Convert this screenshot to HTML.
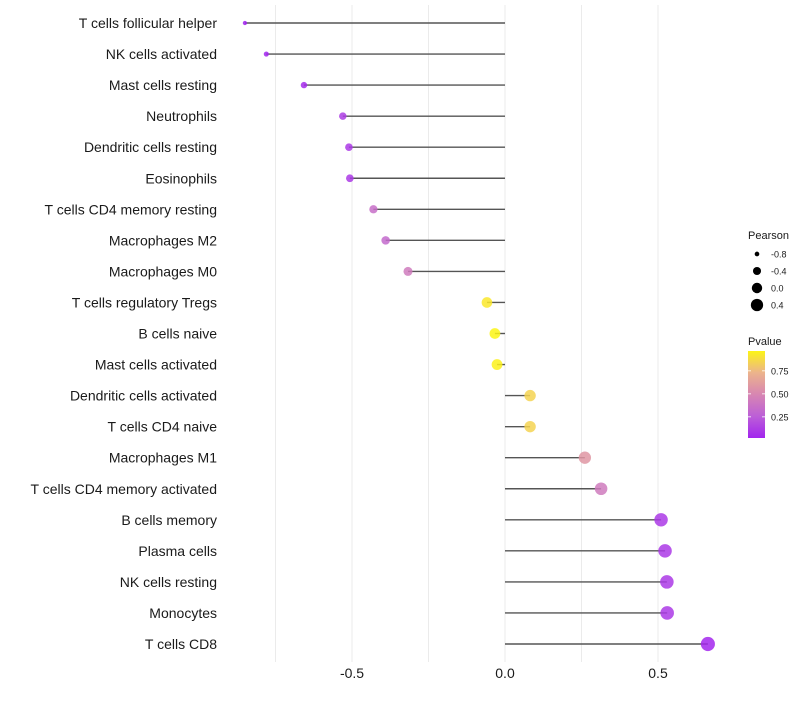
<!DOCTYPE html>
<html><head><meta charset="utf-8"><style>
body{margin:0;background:#fff;font-family:"Liberation Sans",sans-serif}
</style></head><body>
<svg id="chart" width="800" height="700" xmlns="http://www.w3.org/2000/svg" font-family="Liberation Sans, sans-serif"></svg>
<script>
const categories=["T cells follicular helper","NK cells activated","Mast cells resting","Neutrophils","Dendritic cells resting","Eosinophils","T cells CD4 memory resting","Macrophages M2","Macrophages M0","T cells regulatory  Tregs ","B cells naive","Mast cells activated","Dendritic cells activated","T cells CD4 naive","Macrophages M1","T cells CD4 memory activated","B cells memory","Plasma cells","NK cells resting","Monocytes","T cells CD8"];
const pearson=[-0.85,-0.78,-0.657,-0.53,-0.51,-0.507,-0.43,-0.39,-0.317,-0.059,-0.033,-0.026,0.082,0.082,0.261,0.314,0.51,0.523,0.529,0.53,0.663];
const pvalue=[0.01,0.02,0.05,0.12,0.1,0.1,0.35,0.32,0.42,0.92,0.96,0.95,0.85,0.85,0.58,0.42,0.1,0.1,0.1,0.1,0.03];
const xTicks=[-0.5,0,0.5];
const xTickLabels=["-0.5","0.0","0.5"];
const gridVals=[-0.75,-0.5,-0.25,0,0.25,0.5];
const sizeLegend=[-0.8,-0.4,0.0,0.4];
const sizeLabels=["-0.8","-0.4","0.0","0.4"];
const colorTicks=[0.25,0.5,0.75];
const colorTickLabels=["0.25","0.50","0.75"];

const svg=document.getElementById('chart');
const NS='http://www.w3.org/2000/svg';
const X=v=>505+v*306;
const Y=i=>23+i*31.05;
const R=v=>Math.sqrt(Math.max(2,30+30*v));
const stops=[[160,32,240],[187,94,216],[216,136,176],[238,184,136],[255,255,0]];
function col(p){const t=Math.max(0,Math.min(1,p))*4;const k=Math.min(3,Math.floor(t));const f=t-k;
 return 'rgb('+stops[k].map((c,j)=>Math.round(c+(stops[k+1][j]-c)*f)).join(',')+')';}
function mk(tag,attrs,parent){const e=document.createElementNS(NS,tag);for(const k in attrs)e.setAttribute(k,attrs[k]);(parent||svg).appendChild(e);return e;}

gridVals.forEach(g=>{const l=mk('line',{x1:X(g),x2:X(g),y1:5,y2:662,stroke:'#ebebeb','stroke-width':1});

});

categories.forEach((c,i)=>{
 const t=mk('text',{x:217,y:Y(i)+5,'text-anchor':'end','font-size':14,fill:'#1a1a1a'});t.textContent=c;
 
 
 const l=mk('line',{x1:X(0),x2:X(pearson[i]),y1:Y(i),y2:Y(i),stroke:'#555','stroke-width':1.4});
 
 
 const d=mk('circle',{cx:X(pearson[i]),cy:Y(i),r:R(pearson[i]),fill:col(pvalue[i]),'fill-opacity':0.85});
 
 
});
xTicks.forEach((v,i)=>{const t=mk('text',{x:X(v),y:678,'text-anchor':'middle','font-size':14,fill:'#1a1a1a'});t.textContent=xTickLabels[i];

});

const lt=mk('text',{x:748,y:239,'font-size':11,fill:'#1a1a1a'});lt.textContent='Pearson';


sizeLegend.forEach((v,i)=>{const y=254+i*17;
 const c=mk('circle',{cx:757,cy:y,r:R(v)*0.95,fill:'#000'});
 
 
 const t=mk('text',{x:771,y:y+3.5,'font-size':9,fill:'#1a1a1a'});t.textContent=sizeLabels[i];
 
 });

const ct=mk('text',{x:748,y:345,'font-size':11,fill:'#1a1a1a'});ct.textContent='Pvalue';


const defs=mk('defs',{});const grad=mk('linearGradient',{id:'g',x1:0,y1:1,x2:0,y2:0},defs);
[0,0.25,0.5,0.75,1].forEach(o=>mk('stop',{offset:o,'stop-color':col(0.02+o*0.94)},grad));
const PY=p=>438-(p-0.02)*92;
const bar=mk('rect',{x:748,y:351,width:17,height:87,fill:'url(#g)'});


colorTicks.forEach((v,i)=>{const y=PY(v);
 mk('line',{x1:748,x2:751,y1:y,y2:y,stroke:'#fff','stroke-width':0.8});mk('line',{x1:762,x2:765,y1:y,y2:y,stroke:'#fff','stroke-width':0.8});
 const t=mk('text',{x:771,y:y+3.5,'font-size':9,fill:'#1a1a1a'});t.textContent=colorTickLabels[i];
 
 });
</script>
</body></html>
